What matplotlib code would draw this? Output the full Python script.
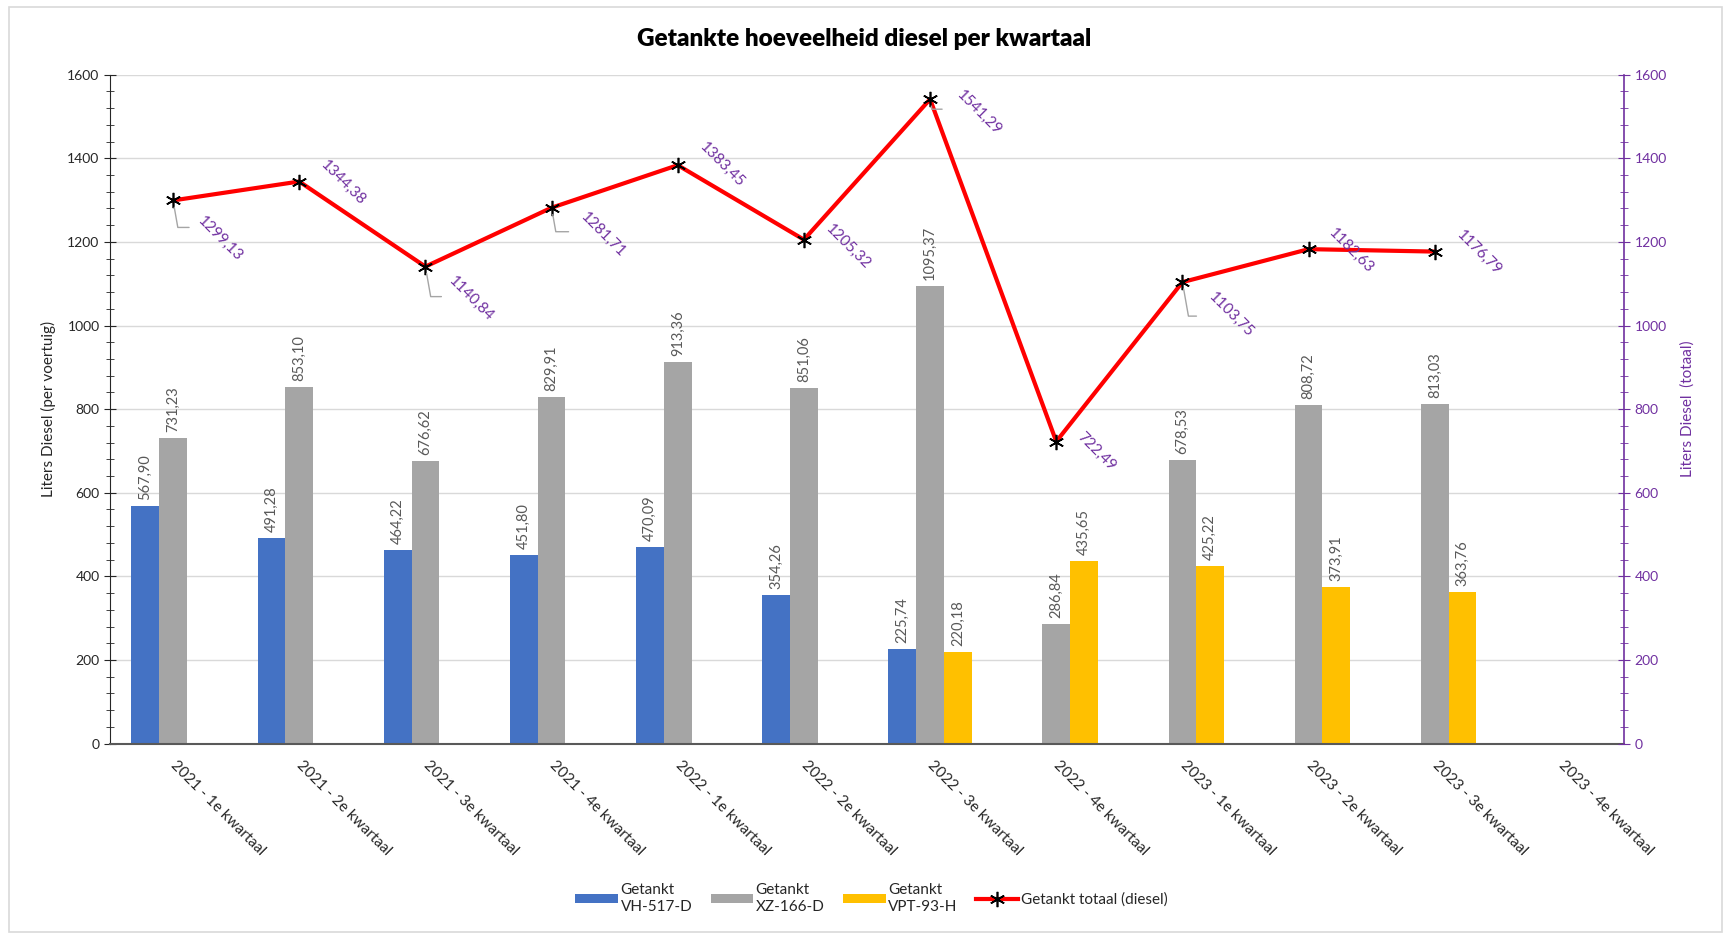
"""Getankte hoeveelheid diesel per kwartaal: bars per vehicle plus total line."""

import matplotlib

matplotlib.use("Agg")
import matplotlib.pyplot as plt
import numpy as np
from matplotlib.patches import Rectangle
from matplotlib.ticker import MultipleLocator

plt.rcParams["font.family"] = ["Lato", "DejaVu Sans"]

quarters = [
    "2021 - 1e kwartaal", "2021 - 2e kwartaal", "2021 - 3e kwartaal", "2021 - 4e kwartaal",
    "2022 - 1e kwartaal", "2022 - 2e kwartaal", "2022 - 3e kwartaal", "2022 - 4e kwartaal",
    "2023 - 1e kwartaal", "2023 - 2e kwartaal", "2023 - 3e kwartaal", "2023 - 4e kwartaal",
]
nan = np.nan
vh517 = [567.90, 491.28, 464.22, 451.80, 470.09, 354.26, 225.74, nan, nan, nan, nan, nan]
xz166 = [731.23, 853.10, 676.62, 829.91, 913.36, 851.06, 1095.37, 286.84, 678.53, 808.72, 813.03, nan]
vpt93 = [nan, nan, nan, nan, nan, nan, 220.18, 435.65, 425.22, 373.91, 363.76, nan]
totaal = [1299.13, 1344.38, 1140.84, 1281.71, 1383.45, 1205.32, 1541.29, 722.49, 1103.75, 1182.63, 1176.79, nan]

series_names = ["Getankt\nVH-517-D", "Getankt\nXZ-166-D", "Getankt\nVPT-93-H"]
series_colors = ["#4472C4", "#A5A5A5", "#FFC000"]

# label offsets (pixels) for the total line labels and which ones get a leader line
label_offsets = [(47, -38), (44, -1), (46, -32), (52, -27), (44, 0), (44, -7),
                 (49, -14), (40, -10), (49, -33), (43, -2), (44, -1)]
leaders = {0: (16, -27), 2: (16, -30), 3: (17, -24), 6: (12, -10), 8: (14, -34)}

PURPLE = "#7030A0"
TXT = "#262626"


def fmt(v):
    return f"{v:.2f}".replace(".", ",")


def main() -> None:
    fig = plt.figure(figsize=(17.29, 9.33), dpi=100)
    fig.patches.append(Rectangle((0.005, 0.001), 0.991, 0.992, transform=fig.transFigure,
                                 fill=False, edgecolor="#D9D9D9", lw=1.2))
    ax = fig.add_axes([0.0636, 0.203, 0.8757, 0.717])
    ax2 = ax.twinx()

    x = np.arange(len(quarters))
    w = 0.22
    for i, (vals, name, col) in enumerate(zip([vh517, xz166, vpt93], series_names, series_colors)):
        pos = x + (i - 1) * w
        ax.bar(pos, vals, width=w, color=col, label=name, zorder=2)
        for px, v in zip(pos, vals):
            if not np.isnan(v):
                ax.annotate(fmt(v), (px, v), xytext=(0, 6), textcoords="offset pixels",
                            rotation=90, ha="center", va="bottom", fontsize=10.5, color="#595959")

    ax.set_xlim(-0.5, len(quarters) - 0.5)
    for a in (ax, ax2):
        a.set_ylim(0, 1600)
        a.yaxis.set_major_locator(MultipleLocator(200))
        a.yaxis.set_minor_locator(MultipleLocator(40))
        a.spines["top"].set_visible(False)
    ax.grid(axis="y", color="#D9D9D9", lw=1, zorder=0)
    ax.set_axisbelow(True)

    ax.spines["right"].set_visible(False)
    ax.spines["left"].set_color("#262626")
    ax.spines["bottom"].set_color("#595959")
    ax.spines["bottom"].set_linewidth(1.5)
    ax2.spines["left"].set_visible(False)
    ax2.spines["bottom"].set_visible(False)
    ax2.spines["right"].set_color(PURPLE)
    ax2.spines["right"].set_linewidth(1.2)

    ax.tick_params(axis="y", which="both", direction="inout", colors=TXT, labelsize=10)
    ax.tick_params(axis="y", which="major", length=8)
    ax.tick_params(axis="y", which="minor", length=6)
    ax2.tick_params(axis="y", which="both", direction="inout", colors=PURPLE, labelsize=10)
    ax2.tick_params(axis="y", which="major", length=8)
    ax2.tick_params(axis="y", which="minor", length=6)

    ax.set_xticks(x)
    ax.set_xticklabels(quarters, rotation=-45, ha="left", va="center",
                       rotation_mode="anchor", fontsize=11, color=TXT)
    ax.tick_params(axis="x", length=0, pad=14)

    ax.set_ylabel("Liters Diesel (per voertuig)", fontsize=11, color=TXT, labelpad=8)
    ax2.set_ylabel("Liters Diesel  (totaal)", fontsize=11, color=PURPLE, labelpad=10)

    ax2.plot(x, totaal, color="#FF0000", lw=3, marker=(6, 2, 0), markersize=11,
             markeredgecolor="black", markeredgewidth=1.2, label="Getankt totaal (diesel)",
             zorder=3)
    for i, v in enumerate(totaal):
        if np.isnan(v):
            continue
        dx, dy = label_offsets[i]
        ax2.annotate(fmt(v), (x[i], v), xytext=(dx, dy), textcoords="offset pixels",
                     rotation=-45, ha="center", va="center", fontsize=11, color=PURPLE)
        if i in leaders:
            lx, ly = leaders[i]
            ax2.annotate("", xy=(x[i], v), xytext=(lx, ly), textcoords="offset pixels",
                         arrowprops=dict(arrowstyle="-", color="#A5A5A5", lw=1,
                                         shrinkA=0, shrinkB=5,
                                         connectionstyle="angle,angleA=0,angleB=100"))

    fig.suptitle("Getankte hoeveelheid diesel per kwartaal", y=0.97,
                 fontsize=17.5, fontweight="heavy", color="#000000")

    h1, l1 = ax.get_legend_handles_labels()
    h2, l2 = ax2.get_legend_handles_labels()
    leg = fig.legend(h1 + h2, l1 + l2, loc="center", bbox_to_anchor=(0.504, 0.037), ncol=4,
                     frameon=False, fontsize=11, handlelength=2.8, handleheight=0.55,
                     columnspacing=1.2, handletextpad=0.15, labelcolor=TXT)
    for t in leg.get_texts():
        t.set_horizontalalignment("left")
        t.set_multialignment("left")

    fig.savefig("out.png", dpi=100)
    plt.close(fig)


if __name__ == "__main__":
    main()
